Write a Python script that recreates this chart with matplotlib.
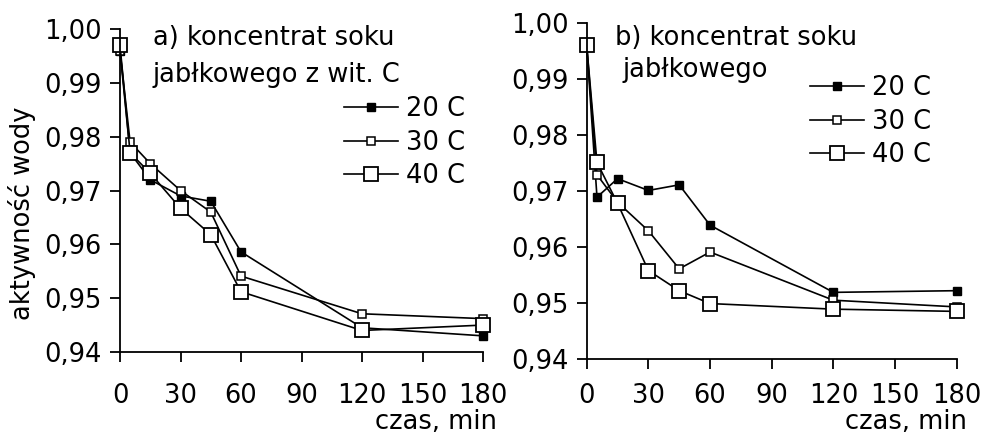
import matplotlib
matplotlib.use('Agg')
from matplotlib import pyplot as plt
from matplotlib.ticker import FuncFormatter

plt.rcParams['font.family'] = ['DejaVu Sans']
FS = 18.5

# czas, min
czas = [0, 5, 15, 30, 45, 60, 120, 180]

# a) koncentrat soku jablkowego z wit. C
a_20 = [0.996, 0.977, 0.972, 0.969, 0.968, 0.9586, 0.9445, 0.943]
a_30 = [0.996, 0.979, 0.975, 0.970, 0.966, 0.9541, 0.9471, 0.9462]
a_40 = [0.997, 0.977, 0.9732, 0.9667, 0.9618, 0.9512, 0.944, 0.945]

# b) koncentrat soku jablkowego
b_20 = [0.996, 0.9689, 0.9722, 0.9701, 0.9711, 0.9639, 0.9519, 0.9522]
b_30 = [0.996, 0.9729, 0.968, 0.9629, 0.9561, 0.9591, 0.9505, 0.9493]
b_40 = [0.996, 0.9751, 0.9678, 0.9558, 0.9522, 0.9499, 0.9489, 0.9485]

labels = ['20 C', '30 C', '40 C']
x_ticks = [0, 30, 60, 90, 120, 150, 180]
y_ticks = [0.94, 0.95, 0.96, 0.97, 0.98, 0.99, 1.00]

W, H = 983, 434
fig = plt.figure(figsize=(W / 100, H / 100), dpi=100)

def px_ax(left, right, top, bottom):
    return fig.add_axes([left / W, 1 - bottom / H, (right - left) / W, (bottom - top) / H])

ax_a = px_ax(120, 483, 29, 352)
ax_b = px_ax(586.7, 956.7, 23, 359)

styles = [
    dict(marker='s', markersize=6, markerfacecolor='black', markeredgecolor='black'),
    dict(marker='s', markersize=5.5, markerfacecolor='white', markeredgecolor='black', markeredgewidth=1.1),
    dict(marker='s', markersize=10, markerfacecolor='white', markeredgecolor='black', markeredgewidth=1.3),
]

comma = FuncFormatter(lambda v, p: ('%.2f' % v).replace('.', ','))

for ax, series, xpad in [(ax_a, [a_20, a_30, a_40], 15), (ax_b, [b_20, b_30, b_40], 10)]:
    for vals, st, lab in zip(series, styles, labels):
        ax.plot(czas, vals, color='black', linewidth=1.2, clip_on=False, label=lab, **st)
    ax.set_xlim(0, 180)
    ax.set_ylim(0.94, 1.00)
    ax.set_xticks(x_ticks)
    ax.set_yticks(y_ticks)
    ax.yaxis.set_major_formatter(comma)
    for s in ['top', 'right']:
        ax.spines[s].set_visible(False)
    for s in ['left', 'bottom']:
        ax.spines[s].set_linewidth(1.3)
    ax.tick_params(axis='both', direction='out', length=7, width=1.3, labelsize=FS)
    ax.tick_params(axis='y', pad=6)
    ax.tick_params(axis='x', pad=xpad)

leg_a = ax_a.legend(frameon=False, fontsize=FS, loc='upper left',
                    bbox_to_anchor=(331 / W, 1 - 83 / H), bbox_transform=fig.transFigure,
                    handlelength=2.1, handletextpad=0.3, labelspacing=0.3, borderpad=0)
leg_b = ax_b.legend(frameon=False, fontsize=FS, loc='upper left',
                    bbox_to_anchor=(797 / W, 1 - 62 / H), bbox_transform=fig.transFigure,
                    handlelength=2.1, handletextpad=0.3, labelspacing=0.3, borderpad=0)

fig.text(153 / W, 1 - 45 / H, 'a) koncentrat soku', fontsize=FS, va='baseline')
fig.text(153 / W, 1 - 82 / H, 'jabłkowego z wit. C', fontsize=FS, va='baseline')
fig.text(615 / W, 1 - 45 / H, 'b) koncentrat soku', fontsize=FS, va='baseline')
fig.text(623 / W, 1 - 77 / H, 'jabłkowego', fontsize=FS, va='baseline')

fig.text(22 / W, 1 - 213 / H, 'aktywność wody', fontsize=FS, rotation=90, ha='center', va='center')
fig.text(497 / W, 1 - 429 / H, 'czas, min', fontsize=FS, ha='right', va='baseline')
fig.text(967 / W, 1 - 429 / H, 'czas, min', fontsize=FS, ha='right', va='baseline')

fig.savefig('out.png', dpi=100)
